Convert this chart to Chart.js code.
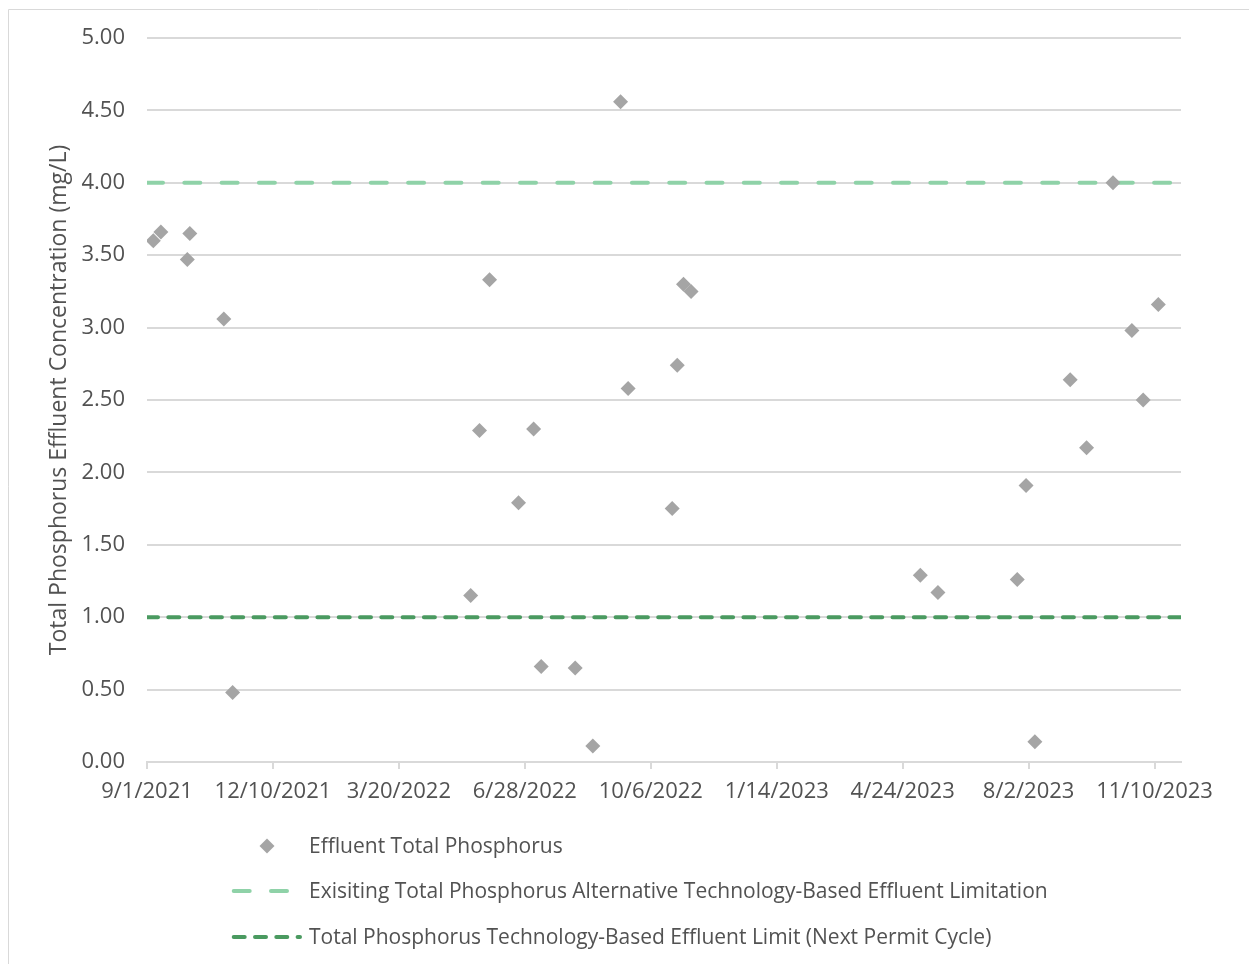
<!DOCTYPE html>
<html>
<head>
<meta charset="utf-8">
<title>Effluent Total Phosphorus</title>
<script src="https://cdn.jsdelivr.net/npm/chart.js@4.4.1/dist/chart.umd.min.js"></script>
<style>
  html, body { margin: 0; padding: 0; background: #ffffff; }
  #wrap { position: relative; width: 1249px; height: 964px; }
  canvas { display: block; }
</style>
</head>
<body>
<div id="wrap"><canvas id="chart" width="1249" height="964"></canvas></div>
<script>
// Axis extent and tick labels (dates, every 100 days)
const axisStart = '9/1/2021';
const axisEnd = '12/1/2023';
const xTickLabels = ['9/1/2021', '12/10/2021', '3/20/2022', '6/28/2022', '10/6/2022',
                     '1/14/2023', '4/24/2023', '8/2/2023', '11/10/2023'];
const yTickValues = [0, 0.5, 1, 1.5, 2, 2.5, 3, 3.5, 4, 4.5, 5];

// Effluent total phosphorus samples (mg/L)
const sampleDates = [
  '9/6/2021', '9/12/2021', '10/3/2021', '10/5/2021', '11/1/2021', '11/8/2021',
  '5/16/2022', '5/23/2022', '5/31/2022', '6/23/2022', '7/5/2022', '7/11/2022',
  '8/7/2022', '8/21/2022', '9/12/2022', '9/18/2022', '10/23/2022', '10/27/2022',
  '11/1/2022', '11/7/2022',
  '5/8/2023', '5/22/2023', '7/24/2023', '7/31/2023', '8/7/2023', '9/4/2023',
  '9/17/2023', '10/8/2023', '10/23/2023', '11/1/2023', '11/13/2023'
];
const phosphorus = [
  3.60, 3.66, 3.47, 3.65, 3.06, 0.48,
  1.15, 2.29, 3.33, 1.79, 2.30, 0.66,
  0.65, 0.11, 4.56, 2.58, 1.75, 2.74,
  3.30, 3.25,
  1.29, 1.17, 1.26, 1.91, 0.14, 2.64,
  2.17, 4.00, 2.98, 2.50, 3.16
];

// Effluent limits (mg/L)
const existingLimit = 4.0;
const nextPermitLimit = 1.0;

const seriesLabels = [
  'Effluent Total Phosphorus',
  'Exisiting Total Phosphorus Alternative Technology-Based Effluent Limitation',
  'Total Phosphorus Technology-Based Effluent Limit (Next Permit Cycle)'
];

const FONT = "'Open Sans', 'Noto Sans', sans-serif";
const TEXT = '#525252';
const GRID = '#d9d9d9';
const MARKER = '#a5a5a5';
const LIGHT_GREEN = '#8fd2a8';
const DARK_GREEN = '#4a9a60';

function parseDate(s) {
  const [m, d, y] = s.split('/').map(Number);
  return Date.UTC(y, m - 1, d);
}
const origin = parseDate(axisStart);
function dayOf(s) { return Math.round((parseDate(s) - origin) / 86400000); }

const xMin = dayOf(axisStart);
const xMax = dayOf(axisEnd);
const xTicks = xTickLabels.map(dayOf);
const labelByDay = {};
xTickLabels.forEach((l, i) => { labelByDay[xTicks[i]] = l; });

const points = sampleDates.map((d, i) => ({ x: dayOf(d), y: phosphorus[i] }));

// Outer frame (top and left edges)
const framePlugin = {
  id: 'frame',
  beforeDraw(chart) {
    const ctx = chart.ctx;
    ctx.save();
    ctx.strokeStyle = GRID;
    ctx.lineWidth = 1;
    ctx.beginPath();
    ctx.moveTo(8.5, 964);
    ctx.lineTo(8.5, 9.5);
    ctx.lineTo(1249, 9.5);
    ctx.stroke();
    ctx.restore();
  }
};

// Stacked legend below the plot
const legendPlugin = {
  id: 'stackedLegend',
  afterDraw(chart) {
    const ctx = chart.ctx;
    const rows = [846, 891, 937];
    const textX = 309;
    ctx.save();
    ctx.font = '21px ' + FONT;
    ctx.fillStyle = TEXT;
    ctx.textBaseline = 'middle';
    ctx.textAlign = 'left';
    chart.data.datasets.forEach((ds, i) => {
      const y = rows[i];
      if (i === 0) {
        const r = ds.pointRadius;
        const cx = 267;
        ctx.save();
        ctx.fillStyle = ds.backgroundColor;
        ctx.beginPath();
        ctx.moveTo(cx - r, y);
        ctx.lineTo(cx, y - r);
        ctx.lineTo(cx + r, y);
        ctx.lineTo(cx, y + r);
        ctx.closePath();
        ctx.fill();
        ctx.restore();
      } else {
        ctx.save();
        ctx.strokeStyle = ds.borderColor;
        ctx.lineWidth = ds.borderWidth;
        ctx.lineCap = 'round';
        ctx.setLineDash(ds.borderDash);
        ctx.beginPath();
        ctx.moveTo(233.7, y);
        ctx.lineTo(i === 1 ? 287.5 : 300, y);
        ctx.stroke();
        ctx.restore();
      }
      ctx.fillText(ds.label, textX, y + 1);
    });
    ctx.restore();
  }
};

new Chart(document.getElementById('chart'), {
  type: 'scatter',
  data: {
    datasets: [
      {
        label: seriesLabels[0],
        data: points,
        pointStyle: 'rectRot',
        pointRadius: 7.5,
        pointHoverRadius: 7.5,
        pointBorderWidth: 0,
        backgroundColor: MARKER,
        borderColor: MARKER
      },
      {
        label: seriesLabels[1],
        data: [{ x: xMin, y: existingLimit }, { x: xMax, y: existingLimit }],
        showLine: true,
        pointRadius: 0,
        borderColor: LIGHT_GREEN,
        backgroundColor: LIGHT_GREEN,
        borderWidth: 4,
        borderDash: [16, 21.3],
        borderCapStyle: 'round'
      },
      {
        label: seriesLabels[2],
        data: [{ x: xMin, y: nextPermitLimit }, { x: xMax, y: nextPermitLimit }],
        showLine: true,
        pointRadius: 0,
        borderColor: DARK_GREEN,
        backgroundColor: DARK_GREEN,
        borderWidth: 4,
        borderDash: [11, 10.3],
        borderCapStyle: 'round'
      }
    ]
  },
  options: {
    responsive: false,
    animation: false,
    events: [],
    layout: { padding: { left: 0, top: 38, right: 68, bottom: 0 } },
    plugins: {
      legend: { display: false },
      tooltip: { enabled: false }
    },
    scales: {
      x: {
        type: 'linear',
        min: xMin,
        max: xMax,
        afterBuildTicks(scale) { scale.ticks = xTicks.map(v => ({ value: v })); },
        afterFit(scale) { scale.height = 202; },
        grid: {
          drawOnChartArea: false,
          drawTicks: true,
          tickLength: 7,
          color: GRID,
          lineWidth: 2
        },
        border: { display: true, color: GRID, width: 2 },
        ticks: {
          autoSkip: false,
          maxRotation: 0,
          padding: 10,
          color: TEXT,
          font: { family: FONT, size: 22 },
          callback: v => labelByDay[v] ?? ''
        }
      },
      y: {
        min: 0,
        max: 5,
        afterBuildTicks(scale) { scale.ticks = yTickValues.map(v => ({ value: v })); },
        afterFit(scale) { scale.width = 147; },
        grid: { color: GRID, lineWidth: 2, drawTicks: false },
        border: { display: false },
        ticks: {
          padding: 22,
          color: TEXT,
          font: { family: FONT, size: 22 },
          callback: v => Number(v).toFixed(2)
        },
        title: {
          display: true,
          text: 'Total Phosphorus Effluent Concentration (mg/L)',
          color: TEXT,
          font: { family: FONT, size: 23, weight: 'normal' },
          padding: { top: 46, bottom: 0 }
        }
      }
    }
  },
  plugins: [framePlugin, legendPlugin]
});
</script>
</body>
</html>
